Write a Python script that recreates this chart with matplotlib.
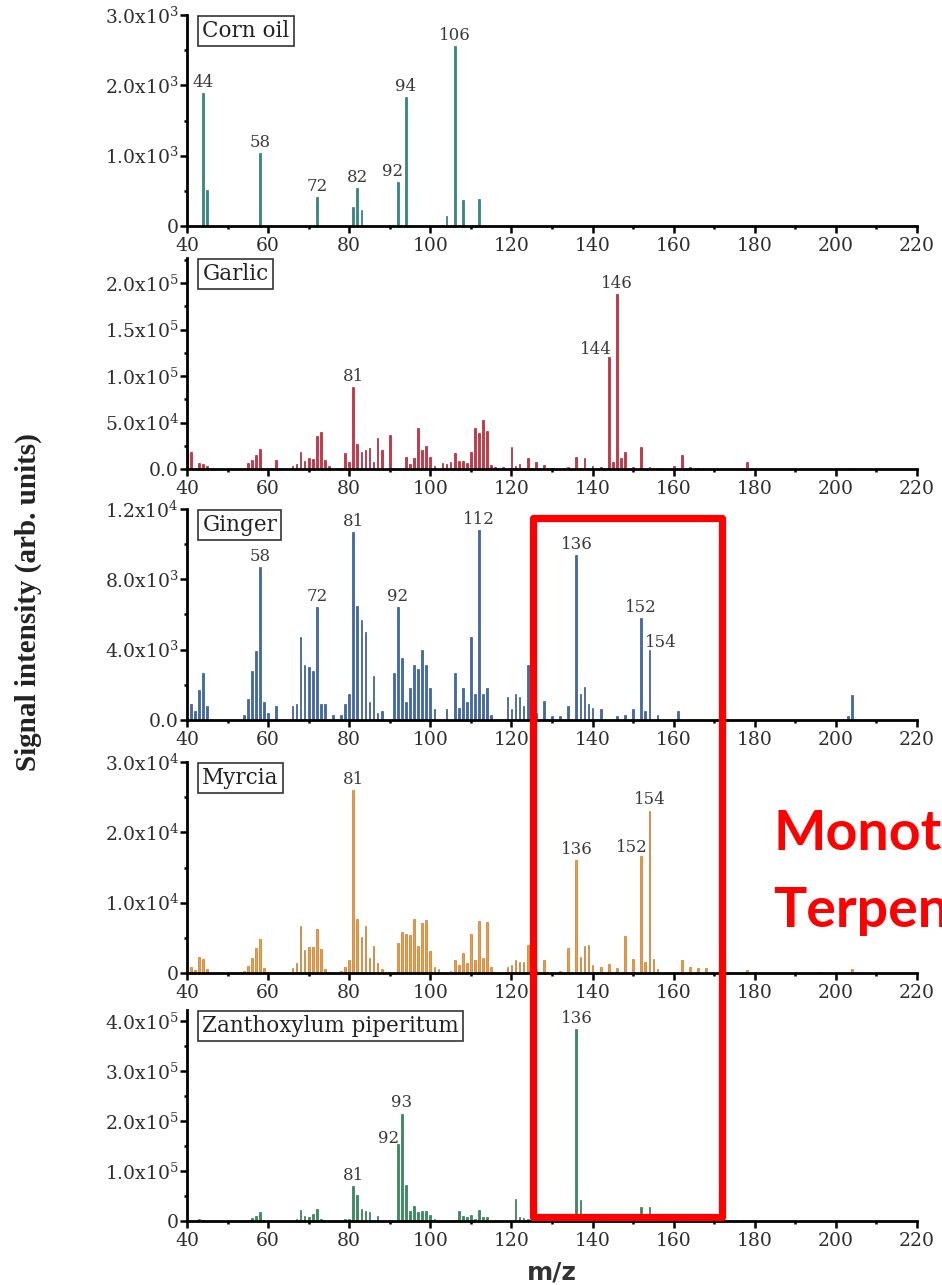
import matplotlib
matplotlib.use("Agg")
import matplotlib.pyplot as plt
from matplotlib.patches import Rectangle
from matplotlib.ticker import FixedLocator, MultipleLocator
from matplotlib.transforms import blended_transform_factory

plt.rcParams["font.family"] = "DejaVu Serif"
plt.rcParams["mathtext.fontset"] = "dejavuserif"

# ---- spectra: m/z and intensity (arb. units) ----
corn_mz = [44, 45, 58, 72, 81, 82, 83, 92, 94, 104, 106, 108, 112]
corn_int = [1890, 510, 1040, 410, 270, 540, 230, 630, 1840, 140, 2560, 370, 380]
corn_peaks = [44, 58, 72, 82, 92, 94, 106]

garlic_mz = [40, 41, 43, 44, 45, 55, 56, 57, 58, 62, 66, 67, 68, 69, 70, 71,
             72, 73, 74, 75, 79, 80, 81, 82, 83, 84, 85, 86, 87, 88, 90, 94,
             95, 96, 97, 98, 99, 100, 101, 103, 104, 105, 106, 107, 108, 109,
             110, 111, 112, 113, 114, 115, 116, 118, 120, 121, 122, 124, 126,
             128, 130, 134, 136, 138, 140, 142, 144, 145, 146, 147, 148, 150,
             152, 154, 156, 160, 162, 164, 166, 178, 204]
garlic_int = [20e3, 18e3, 7e3, 5e3, 3e3, 7e3, 10e3, 15e3, 22e3, 10e3, 3e3,
              5e3, 18e3, 9e3, 12e3, 11e3, 36e3, 40e3, 10e3, 3e3, 17e3, 8e3,
              88e3, 27e3, 18e3, 20e3, 23e3, 8e3, 33e3, 21e3, 37e3, 13e3, 5e3,
              12e3, 44e3, 20e3, 25e3, 13e3, 3e3, 6e3, 5e3, 8e3, 17e3, 9e3, 9e3,
              6e3, 18e3, 44e3, 39e3, 53e3, 41e3, 4e3, 2e3, 2e3, 24e3, 3e3, 5e3,
              12e3, 8e3, 4e3, 1e3, 2e3, 13e3, 12e3, 3e3, 2e3, 121e3, 8e3,
              188e3, 12e3, 18e3, 2e3, 24e3, 2e3, 1e3, 3e3, 15e3, 2e3, 1e3,
              8e3, 1e3]
garlic_peaks = [81, 144, 146]

ginger_mz = [41, 42, 43, 44, 45, 54, 55, 56, 57, 58, 59, 60, 62, 66, 67, 68,
             69, 70, 71, 72, 73, 74, 76, 78, 79, 80, 81, 82, 83, 84, 85, 86,
             87, 88, 91, 92, 93, 94, 95, 96, 97, 98, 99, 100, 101, 104, 106,
             107, 108, 109, 110, 111, 112, 113, 114, 115, 119, 120, 121, 122,
             123, 124, 126, 128, 130, 132, 134, 136, 137, 138, 139, 140, 142,
             146, 148, 150, 152, 153, 154, 156, 161, 203, 204]
ginger_int = [900, 500, 1700, 2700, 800, 300, 1200, 2800, 3900, 8700, 1000,
              400, 800, 800, 900, 4700, 3100, 3000, 2800, 6400, 900, 900, 300,
              300, 900, 1500, 10700, 6500, 5700, 5000, 1000, 2500, 400, 500,
              2700, 6400, 3500, 1000, 1800, 3100, 2900, 4000, 3100, 1800, 600,
              600, 2700, 700, 1800, 1000, 4700, 1500, 10800, 1500, 1800, 300,
              1300, 600, 1500, 1300, 800, 3100, 400, 1100, 200, 200, 800, 9400,
              1500, 1900, 900, 700, 600, 200, 300, 600, 5800, 500, 4000, 300,
              500, 200, 1400]
ginger_peaks = [58, 72, 81, 92, 112, 136, 152, 154]

myrcia_mz = [41, 42, 43, 44, 45, 54, 55, 56, 57, 58, 59, 66, 67, 68, 69, 70,
             71, 72, 73, 74, 78, 79, 80, 81, 82, 83, 84, 85, 86, 87, 88, 92,
             93, 94, 95, 96, 97, 98, 99, 100, 101, 102, 105, 106, 107, 108,
             109, 110, 111, 112, 113, 114, 115, 116, 119, 120, 121, 122, 123,
             124, 126, 128, 132, 134, 136, 137, 138, 139, 140, 142, 144, 146,
             148, 150, 152, 153, 154, 155, 156, 162, 164, 166, 168, 178, 180,
             190, 196, 204]
myrcia_int = [900, 400, 2300, 2000, 500, 300, 1000, 2100, 3500, 4800, 700, 700,
              1400, 6700, 3200, 3700, 3700, 6200, 3400, 600, 300, 900, 1900,
              26000, 7700, 5100, 6700, 2100, 3800, 1400, 600, 4200, 5800, 5600,
              5400, 7700, 3800, 7100, 7600, 3100, 900, 600, 300, 1800, 1100,
              2800, 1400, 5500, 1800, 7400, 2200, 7200, 800, 200, 900, 1200,
              1800, 1600, 1500, 4000, 500, 1900, 300, 3500, 16000, 2300, 3900,
              4000, 1200, 800, 1300, 700, 5200, 2000, 16700, 1500, 23100, 2000,
              500, 1900, 800, 700, 700, 400, 200, 200, 200, 600]
myrcia_peaks = [81, 136, 152, 154]

zanth_mz = [43, 44, 55, 56, 57, 58, 59, 67, 68, 69, 70, 71, 72, 73, 79, 80,
            81, 82, 83, 84, 85, 87, 92, 93, 94, 95, 96, 97, 98, 99, 100, 101,
            106, 107, 108, 109, 110, 111, 112, 113, 114, 121, 122, 123, 124,
            136, 137, 152, 154]
zanth_int = [5e3, 2e3, 3e3, 6e3, 10e3, 18e3, 3e3, 4e3, 22e3, 10e3, 8e3, 14e3,
             24e3, 5e3, 4e3, 5e3, 70e3, 52e3, 24e3, 20e3, 18e3, 10e3, 154e3,
             215e3, 73e3, 20e3, 30e3, 18e3, 20e3, 20e3, 12e3, 4e3, 3e3, 20e3,
             10e3, 8e3, 12e3, 5e3, 22e3, 8e3, 8e3, 44e3, 8e3, 6e3, 5e3, 384e3,
             42e3, 28e3, 28e3]
zanth_peaks = [81, 92, 93, 136]

# ---- y axis ticks per panel ----
corn_yticks = [0, 1000, 2000, 3000]
corn_ylabels = ["0", "1.0x10$^3$", "2.0x10$^3$", "3.0x10$^3$"]
garlic_yticks = [0, 50e3, 100e3, 150e3, 200e3]
garlic_ylabels = ["0.0", "5.0x10$^4$", "1.0x10$^5$", "1.5x10$^5$", "2.0x10$^5$"]
ginger_yticks = [0, 4000, 8000, 12000]
ginger_ylabels = ["0.0", "4.0x10$^3$", "8.0x10$^3$", "1.2x10$^4$"]
myrcia_yticks = [0, 10e3, 20e3, 30e3]
myrcia_ylabels = ["0", "1.0x10$^4$", "2.0x10$^4$", "3.0x10$^4$"]
zanth_yticks = [0, 100e3, 200e3, 300e3, 400e3]
zanth_ylabels = ["0", "1.0x10$^5$", "2.0x10$^5$", "3.0x10$^5$", "4.0x10$^5$"]

panels = [
    ("Corn oil", corn_mz, corn_int, corn_peaks, corn_yticks, corn_ylabels,
     3000, 500, "#2b8c84", "#1d5f5a"),
    ("Garlic", garlic_mz, garlic_int, garlic_peaks, garlic_yticks,
     garlic_ylabels, 2.27e5, 25e3, "#e8283f", "#7a1020"),
    ("Ginger", ginger_mz, ginger_int, ginger_peaks, ginger_yticks,
     ginger_ylabels, 12000, 2000, "#3a6cb5", "#1f3d6e"),
    ("Myrcia", myrcia_mz, myrcia_int, myrcia_peaks, myrcia_yticks,
     myrcia_ylabels, 30000, 5000, "#f59a35", "#b8651a"),
    ("Zanthoxylum piperitum", zanth_mz, zanth_int, zanth_peaks, zanth_yticks,
     zanth_ylabels, 4.22e5, 50e3, "#2f9160", "#1d5e3d"),
]

# label nudges in points (dx, dy)
nudge = {("Corn oil", 92): (-4, 1.5), ("Garlic", 144): (-9, -1),
         ("Ginger", 154): (8, -1), ("Myrcia", 152): (-7, 0),
         ("Zanthoxylum piperitum", 92): (-7, -2)}

# axes rectangles in figure fraction
left, width = 0.1985, 0.775
bottoms = [0.8241, 0.6350, 0.4397, 0.2428, 0.0498]
height = 0.1642

fig = plt.figure(figsize=(9.42, 12.85), dpi=100)
fig.patch.set_facecolor("white")

axes = []
for (name, mz, inten, peaks, yt, ylab, ytop, yminor, col, edge), b in zip(panels, bottoms):
    ax = fig.add_axes([left, b, width, height])
    axes.append(ax)
    ax.bar(mz, inten, width=0.42, color=col, edgecolor=edge, linewidth=0.4,
           zorder=2)
    ax.set_xlim(40, 220)
    ax.set_ylim(0, ytop)
    ax.xaxis.set_major_locator(MultipleLocator(20))
    ax.xaxis.set_minor_locator(MultipleLocator(10))
    ax.yaxis.set_major_locator(FixedLocator(yt))
    ax.set_yticklabels(ylab)
    ax.yaxis.set_minor_locator(MultipleLocator(yminor))
    for s in ["top", "right"]:
        ax.spines[s].set_visible(False)
    for s in ["left", "bottom"]:
        ax.spines[s].set_linewidth(2)
        ax.spines[s].set_zorder(3)
    ax.tick_params(which="major", direction="out", length=5, width=1.8,
                   labelsize=13.5, colors="black", labelcolor="#2e2e2e")
    ax.tick_params(axis="y", which="major", pad=1)
    ax.tick_params(axis="x", which="major", pad=3)
    ax.tick_params(which="minor", direction="out", length=2.5, width=1.8)

    for p in peaks:
        h = inten[mz.index(p)]
        dx, dy = nudge.get((name, p), (0, 1.5))
        ax.annotate(str(p), xy=(p, h), xytext=(dx, dy),
                    textcoords="offset points", ha="center", va="bottom",
                    fontsize=12, color="#3a3a3a", zorder=4)

    ax.annotate(name, xy=(0, 1), xycoords="axes fraction", xytext=(11, -3.5),
                textcoords="offset points", ha="left", va="top", fontsize=15.5,
                color="#222222",
                bbox=dict(boxstyle="square,pad=0.2", fc="white", ec="#333333",
                          lw=1.2))

fig.text(28 / 942, 1 - 602 / 1285, "Signal intensity (arb. units)",
         rotation=90, ha="center", va="center", fontsize=21,
         fontweight="bold", family="Liberation Serif", color="#222222")
fig.text(552 / 942, 1 - 1273 / 1285, "m/z", ha="center", va="center",
         fontsize=18, fontweight="bold", family="DejaVu Sans", color="#333333")

# highlighted m/z window across the lower three spectra
trans = blended_transform_factory(axes[-1].transData, fig.transFigure)
box = Rectangle((125.3, 1 - 1217 / 1285), 171.9 - 125.3, (1217 - 518) / 1285,
                transform=trans, fill=False, ec="#ff0000", lw=5.2,
                joinstyle="round", zorder=10, clip_on=False)
fig.add_artist(box)

# note on the right runs past the figure edge
fig.text(773 / 942, 1 - 850 / 1285, "Monoterpene", ha="left",
         va="baseline", fontsize=40, fontweight="bold", family="Lato",
         color="#ff0000")
fig.text(773 / 942, 1 - 927 / 1285, "Terpenoids", ha="left",
         va="baseline", fontsize=40, fontweight="bold", family="Lato",
         color="#ff0000")

fig.savefig("out.png", dpi=100, facecolor="white")
